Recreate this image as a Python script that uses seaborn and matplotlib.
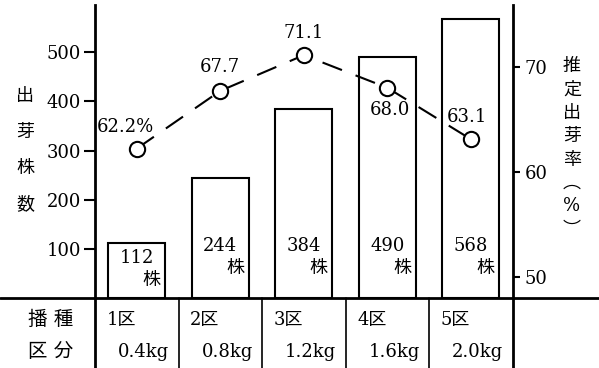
import matplotlib
matplotlib.use('Agg')
import matplotlib.pyplot as plt
import seaborn as sns
import pandas as pd
from matplotlib.lines import Line2D

plots = ['1区', '2区', '3区', '4区', '5区']
seed_kg = ['0.4kg', '0.8kg', '1.2kg', '1.6kg', '2.0kg']
counts = [112, 244, 384, 490, 568]
rates = [62.2, 67.7, 71.1, 68.0, 63.1]
rate_labels = ['62.2%', '67.7', '71.1', '68.0', '63.1']
left_ticks = [100, 200, 300, 400, 500]
right_ticks = [50, 60, 70]

sns.set_theme(style='white')
plt.rcParams['font.family'] = ['DejaVu Serif', 'Noto Sans CJK JP']
plt.rcParams['text.color'] = 'black'
plt.rcParams['xtick.color'] = 'black'
plt.rcParams['ytick.color'] = 'black'

df = pd.DataFrame({'plot': plots, 'count': counts, 'rate': rates})

fig = plt.figure(figsize=(5.99, 3.68), dpi=100)
ax = fig.add_axes([95 / 599, 70 / 368, 417.5 / 599, 293 / 368])
sns.barplot(data=df, x='plot', y='count', ax=ax, width=0.68, color='white',
            edgecolor='black', linewidth=1.5, saturation=1, zorder=2)
ax.set_xlim(-0.5, 4.5)
ax.set_ylim(0, 596)
ax.set_xlabel('')
ax.set_ylabel('')
ax.set_xticks([])
ax.set_yticks(left_ticks)
ax.tick_params(axis='y', direction='out', length=8, width=1.5, labelsize=13, pad=2, left=True)
for s in ['top', 'right', 'bottom']:
    ax.spines[s].set_visible(False)
ax.spines['left'].set_color('black')
ax.spines['left'].set_linewidth(2)

ax2 = ax.twinx()
sns.pointplot(data=df, x='plot', y='rate', ax=ax2, color='black',
              marker='o', linestyle=(0, (10, 7)), linewidth=1.5,
              markersize=11, markerfacecolor='white', markeredgecolor='black',
              markeredgewidth=1.5, errorbar=None)
ax2.set_xlim(-0.5, 4.5)
ax2.set_ylim(47.97, 75.88)
ax2.set_xlabel('')
ax2.set_ylabel('')
ax2.set_yticks(right_ticks)
ax2.tick_params(axis='y', direction='out', length=5, width=1.5, labelsize=13, pad=4, right=True)
for s in ['top', 'left', 'bottom']:
    ax2.spines[s].set_visible(False)
ax2.spines['right'].set_color('black')
ax2.spines['right'].set_linewidth(2)

# rate labels
offsets = [(-11, 22), (0, 24), (0, 22), (3, -22), (-4, 22)]
for i, (r, lab) in enumerate(zip(rates, rate_labels)):
    ax2.annotate(lab, (i, r), xytext=offsets[i], textcoords='offset pixels',
                 ha='center', va='center', fontsize=13)

# bar labels
for i, c in enumerate(counts):
    if c < 150:
        yn, yk = c - 31, c - 75
    else:
        yn, yk = 106, 61
    ax.text(i, yn, str(c), ha='center', va='center', fontsize=13, zorder=5)
    ax.text(i + 0.18, yk, '株', ha='center', va='center', fontsize=13, zorder=5)

# baseline across full width
fig.add_artist(Line2D([0, 1], [70 / 368, 70 / 368], transform=fig.transFigure,
                      color='black', lw=2))

# table separators
xt = ax.get_xaxis_transform()
for k in range(6):
    x = k - 0.5
    lw = 2 if k in (0, 5) else 1.2
    ax.plot([x, x], [0, -0.25], color='black', lw=lw, transform=xt, clip_on=False)

for i, (p, kg) in enumerate(zip(plots, seed_kg)):
    ax.text(i - 0.36, -0.075, p, transform=xt, ha='left', va='center', fontsize=13)
    ax.text(i + 0.39, -0.184, kg, transform=xt, ha='right', va='center', fontsize=13)

fig.text(51 / 599, (368 - 320) / 368, '播 種', ha='center', va='center', fontsize=14)
fig.text(51 / 599, (368 - 352) / 368, '区 分', ha='center', va='center', fontsize=14)

fig.text(25 / 599, (368 - 150) / 368, '出\n芽\n株\n数', ha='center', va='center',
         fontsize=13, linespacing=2.3)
fig.text(572 / 599, (368 - 148) / 368, '推\n定\n出\n芽\n率\n︵\n%\n︶', ha='center',
         va='center', fontsize=13, linespacing=1.38)

fig.savefig('out.png', dpi=100)
